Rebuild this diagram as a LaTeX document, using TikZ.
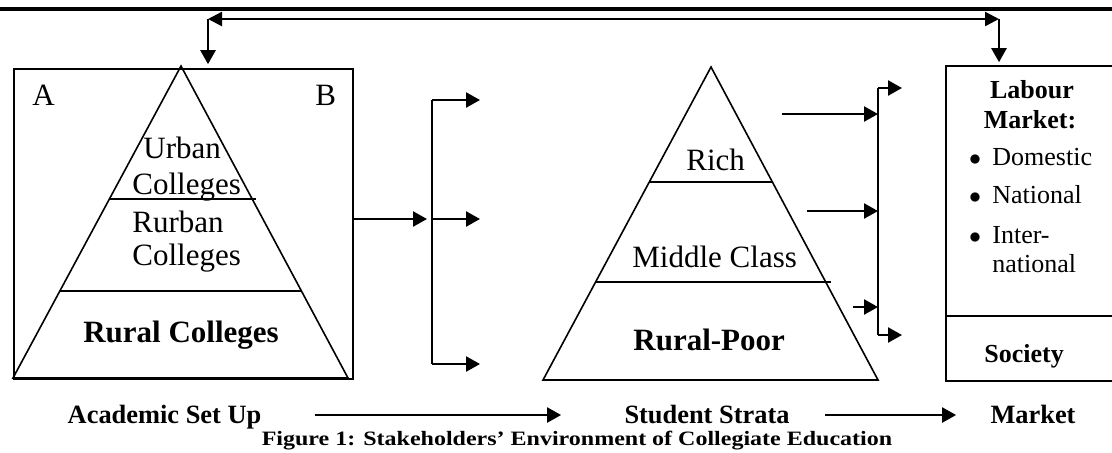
\documentclass[tikz,border=0pt]{standalone}
\usepackage{fontspec}
\setmainfont{Liberation Serif}
\usepackage{graphicx}
\usetikzlibrary{arrows.meta}

\begin{document}
\begin{tikzpicture}[x=0.5pt,y=-0.5pt,
  boxline/.style={line width=0.8pt},
  arr/.style={line width=1.2pt,-{Triangle[length=7pt,width=7.5pt]}},
  darr/.style={line width=1.2pt,{Triangle[length=7pt,width=7pt]}-{Triangle[length=7pt,width=7pt]}},
  pyr/.style={font=\fontsize{15.5pt}{18pt}\selectfont,anchor=base west,inner sep=0pt},
  pyrb/.style={font=\fontsize{15.5pt}{18pt}\selectfont\bfseries,anchor=base,inner sep=0pt},
  mkt/.style={font=\fontsize{13pt}{15pt}\selectfont,anchor=base west,inner sep=0pt},
  mktb/.style={font=\fontsize{13pt}{15pt}\selectfont\bfseries,anchor=base,inner sep=0pt},
  stage/.style={font=\fontsize{13.2pt}{15pt}\selectfont\bfseries,anchor=base,inner sep=0pt,
    text height=8pt,text depth=0pt}]
  \useasboundingbox (0,0) rectangle (1112,452);

  % rule at the top of the page
  \coordinate (ruleL) at (-5,9);
  \coordinate (ruleR) at (1120,9);
  \draw[line width=2pt] (ruleL) -- (ruleR);

  % boxes
  \node[boxline,draw,minimum width=169.5pt,minimum height=155pt,inner sep=0pt] (acad) at (183.5,224) {};
  \node[boxline,draw,minimum width=87pt,minimum height=157.5pt,inner sep=0pt] (market) at (1033,223.5) {};
  \draw[boxline] (market.west |- 0,316) -- (market.east |- 0,316);

  % pyramid of colleges
  \coordinate (c1) at (181,66);
  \coordinate (c1l) at (13,378);
  \coordinate (c1r) at (348,378);
  \draw[boxline] (c1l) -- (c1) -- (c1r) -- cycle;
  \draw[boxline] (110,199) -- (256,199);
  \draw[boxline] (60,291) -- (301,291);

  % pyramid of students
  \coordinate (s1) at (711,67);
  \coordinate (s1l) at (543,380);
  \coordinate (s1r) at (878,380);
  \draw[boxline] (s1l) -- (s1) -- (s1r) -- cycle;
  \draw[boxline] (649,182) -- (773,182);
  \draw[boxline] (595,282) -- (831,282);

  % texts in the first box
  \node[pyr] (A) at (32,105) {A};
  \node[pyr] (B) at (315,105) {B};
  \node[pyr] (urban1) at (143,158) {Urban};
  \node[pyr] (urban2) at (132,194) {Colleges};
  \node[pyr] (rurban1) at (132,232) {Rurban};
  \node[pyr] (rurban2) at (132,265) {Colleges};
  \node[pyrb] (rural) at (181,342) {Rural Colleges};

  % texts in the second pyramid
  \node[pyr] (rich) at (686,170) {Rich};
  \node[pyr] (middle) at (632,267) {Middle Class};
  \node[pyrb,anchor=base west] (poor) at (633,350) {Rural-Poor};

  % texts in the market box
  \node[mktb] (labour) at (1032,98) {Labour};
  \node[mktb] (labmkt) at (1030,128) {Market:};
  \node[mkt,anchor=base] (b1) at (975,165) {$\bullet$};
  \node[mkt] (dom) at (992,165) {Domestic};
  \node[mkt,anchor=base] (b2) at (975,203) {$\bullet$};
  \node[mkt] (nat) at (992,203) {National};
  \node[mkt,anchor=base] (b3) at (975,243) {$\bullet$};
  \node[mkt] (inter1) at (992,243) {Inter-};
  \node[mkt] (inter2) at (992,272) {national};
  \node[mktb,anchor=base west] (society) at (984,362) {Society};

  % labels under the picture
  \node[stage] (setup) at (164.5,423) {Academic Set Up};
  \node[stage] (strata) at (707,423) {Student Strata};
  \node[stage] (mktlbl) at (1033,423) {Market};
  \node[font=\fontsize{12pt}{14pt}\selectfont\bfseries,anchor=base,inner sep=0pt] (caption) at (577,445)
    {\scalebox{1}[0.85]{Figure 1: Stakeholders’ Environment of Collegiate Education}};

  % feedback between set up and market
  \coordinate (topL) at (208,19);
  \coordinate (topR) at (999,19);
  \path[darr] (topL) edge (topR);
  \path[arr] (topL) edge[shorten >=2pt] (acad.north -| topL);
  \path[arr] (topR) edge[shorten >=1.5pt] (market.north -| topR);

  % colleges to students
  \coordinate (br1) at (432,219);
  \coordinate (br1t) at (432,100);
  \coordinate (br1b) at (432,364);
  \draw[boxline,line width=1pt] (br1t) -- (br1b);
  \path[arr] (acad.east |- br1) edge[shorten >=2.5pt] (br1);
  \path[arr] (br1t) edge (480,100);
  \path[arr] (br1) edge (480,219);
  \path[arr] (br1b) edge (480,364);

  % students to market
  \coordinate (br2t) at (878,88);
  \coordinate (br2b) at (878,335);
  \coordinate (in1) at (782,114);
  \coordinate (in2) at (807,211);
  \coordinate (in3) at (853,307);
  \draw[boxline,line width=1pt] (br2t) -- (br2b);
  \path[arr] (in1) edge (br2t |- in1);
  \path[arr] (in2) edge (br2t |- in2);
  \path[arr] (in3) edge (br2t |- in3);
  \path[arr] (br2t) edge (902,88);
  \path[arr] (br2b) edge (902,335);

  % flow along the bottom
  \path[arr] (setup.east) edge[shorten <=26.5pt,shorten >=31.5pt] (strata.west);
  \path[arr] (strata.east) edge[shorten <=17.5pt,shorten >=17pt] (mktlbl.west);

\end{tikzpicture}
\end{document}
